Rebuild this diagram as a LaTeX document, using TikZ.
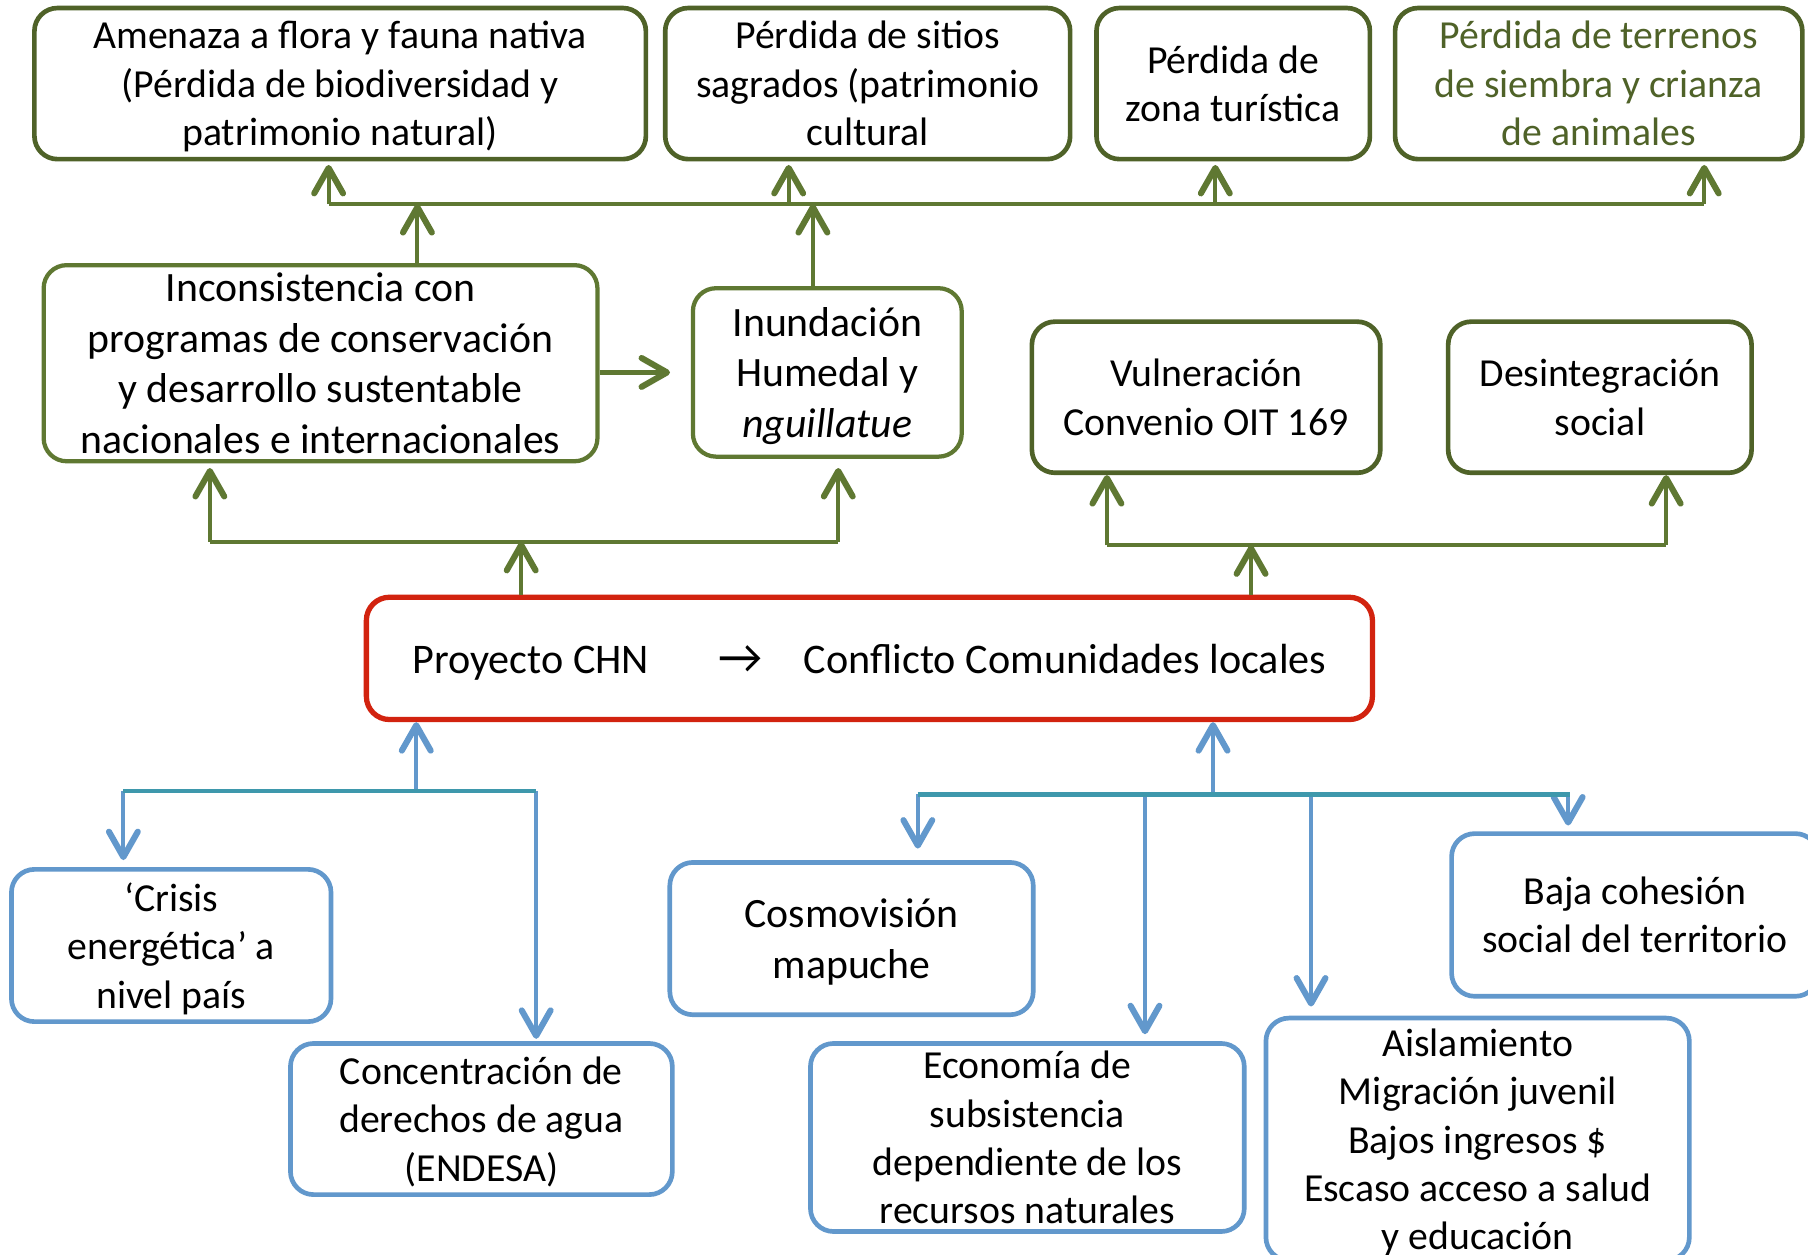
\documentclass[tikz,border=0pt]{standalone}
\usepackage{fontspec}
\setmainfont{Carlito}
\usetikzlibrary{arrows.meta}
\definecolor{dkgreen}{RGB}{79,98,40}
\definecolor{mdgreen}{RGB}{95,120,50}
\definecolor{cblue}{RGB}{98,152,204}
\definecolor{cteal}{RGB}{62,152,172}
\definecolor{cred}{RGB}{210,35,15}
\begin{document}
\begin{tikzpicture}[x=0.01cm,y=-0.01cm,
  box/.style={draw, rounded corners=0.2cm, align=center, inner sep=0pt, line width=1.15pt, fill=white,
    font=\fontsize{9.8}{11.95}\selectfont, text depth=0pt},
  bigtext/.style={font=\fontsize{10.3}{12.5}\selectfont},
  topbox/.style={box, draw=dkgreen},
  midbox/.style={box, draw=mdgreen},
  bluebox/.style={box, draw=cblue},
  tip/.style={-{Straight Barb[length=0.22cm,width=0.25cm,line width=1.5pt,round]}},
  garr/.style={tip, draw=mdgreen, line width=1pt},
  gline/.style={draw=mdgreen, line width=1pt},
  barr/.style={tip, draw=cblue, line width=0.95pt},
  tline/.style={draw=cteal, line width=1.1pt},
]
\useasboundingbox (0,0) rectangle (1568,1088);
\clip (0,0) rectangle (1568,1088);
\fill[white] (0,0) rectangle (1568,1088);

% top row
\node[topbox, minimum width=5.30cm, minimum height=1.31cm] (t1) at (295,72.5)
  {Amenaza a flora y fauna nativa\\(Pérdida de biodiversidad y\\patrimonio natural)};
\node[topbox, minimum width=3.51cm, minimum height=1.31cm] (t2) at (752.5,72.5)
  {Pérdida de sitios\\sagrados (patrimonio\\cultural};
\node[topbox, minimum width=2.37cm, minimum height=1.31cm] (t3) at (1069.5,72.5)
  {Pérdida de\\zona turística};
\node[topbox, minimum width=3.53cm, minimum height=1.31cm, text=dkgreen] (t4) at (1386.5,72.5)
  {Pérdida de terrenos\\de siembra y crianza\\de animales};

% middle row
\node[midbox, bigtext, line width=1.05pt, minimum width=4.80cm, minimum height=1.70cm] (inc) at (278,315)
  {Inconsistencia con\\programas de conservación\\y desarrollo sustentable\\nacionales e internacionales};
\node[midbox, bigtext, line width=1.05pt, minimum width=2.33cm, minimum height=1.46cm] (inu) at (717.5,323)
  {Inundación\\Humedal y\\\textit{nguillatue}};
\node[topbox, minimum width=3.02cm, minimum height=1.31cm] (vul) at (1046,344.5)
  {Vulneración\\Convenio OIT 169};
\node[topbox, minimum width=2.63cm, minimum height=1.31cm] (des) at (1387.5,344.5)
  {Desintegración\\social};

% central box
\node[box, draw=cred, line width=1.3pt, font=\fontsize{10.4}{12.6}\selectfont,
  minimum width=8.72cm, minimum height=1.06cm] (red) at (754,571)
  {Proyecto CHN\hspace*{0.6cm}{\fontsize{12}{12}\selectfont →}\hspace*{0.36cm}Conflicto Comunidades locales};

% bottom boxes
\node[bluebox, minimum width=2.77cm, minimum height=1.32cm] (cri) at (148.5,820)
  {‘Crisis\\energética’ a\\nivel país};
\node[bluebox, minimum width=3.31cm, minimum height=1.31cm] (con) at (417.5,970.5)
  {Concentración de\\derechos de agua\\(ENDESA)};
\node[bluebox, bigtext, minimum width=3.15cm, minimum height=1.32cm] (cos) at (738.5,814)
  {Cosmovisión\\mapuche};
\node[bluebox, minimum width=3.18cm, minimum height=1.41cm] (baj) at (1418,793.5)
  {Baja cohesión\\social del territorio};
\node[bluebox, minimum width=3.76cm, minimum height=1.63cm] (eco) at (891,986.5)
  {Economía de\\subsistencia\\dependiente de los\\recursos naturales};
\node[bluebox, minimum width=3.67cm, minimum height=2.10cm] (ais) at (1281.5,988)
  {Aislamiento\\Migración juvenil\\Bajos ingresos \$\\Escaso acceso a salud\\y educación};

% top bus
\coordinate (tb1) at (285,177);
\coordinate (tb2) at (684,177);
\coordinate (tb3) at (1054,177);
\coordinate (tb4) at (1478,177);
\coordinate (tb5) at (362,177);
\coordinate (tb6) at (705,177);
\draw[gline] (tb1) -- (tb4);
\draw[garr, shorten >=0.03cm] (tb1) -- (tb1 |- t1.south);
\draw[garr, shorten >=0.03cm] (tb2) -- (tb2 |- t2.south);
\draw[garr, shorten >=0.03cm] (tb3) -- (tb3 |- t3.south);
\draw[garr, shorten >=0.03cm] (tb4) -- (tb4 |- t4.south);
\draw[garr] (tb5 |- inc.north) -- (tb5);
\draw[garr] (tb6 |- inu.north) -- (tb6);

% Inconsistencia -> Inundacion
\draw[garr, line width=1.2pt, shorten >=0.18cm] (inc.east |- inu.west) -- (inu.west);

% middle left bus
\coordinate (mb0) at (452,470);
\coordinate (mb1) at (182,470);
\coordinate (mb2) at (727,470);
\draw[gline] (mb1) -- (mb2);
\draw[garr] (mb0 |- red.north) -- (mb0);
\draw[garr, shorten >=0.04cm] (mb1) -- (mb1 |- inc.south);
\draw[garr, shorten >=0.08cm] (mb2) -- (mb2 |- inu.south);

% middle right bus
\coordinate (rb0) at (1085,473);
\coordinate (rb1) at (960,473);
\coordinate (rb2) at (1445,473);
\draw[gline] (rb1) -- (rb2);
\draw[garr] (rb0 |- red.north) -- (rb0);
\draw[garr] (rb1) -- (rb1 |- vul.south);
\draw[garr] (rb2) -- (rb2 |- des.south);

% bottom left bus
\coordinate (bl0) at (361,686);
\coordinate (bl1) at (107,686);
\coordinate (bl2) at (465,686);
\draw[barr] (bl0) -- (bl0 |- red.south);
\draw[barr, shorten >=0.06cm] (bl1) -- (bl1 |- cri.north);
\draw[barr, shorten >=0.02cm] (bl2) -- (bl2 |- con.north);
\draw[tline] (bl1) -- (bl2);

% bottom right bus
\coordinate (br0) at (1052,689);
\coordinate (br1) at (796,689);
\coordinate (br2) at (993,689);
\coordinate (br3) at (1137,689);
\coordinate (br4) at (1360,689);
\coordinate (br5) at (1362,689);
\draw[barr] (br0) -- (br0 |- red.south);
\draw[barr, shorten >=0.10cm] (br1) -- (br1 |- cos.north);
\draw[barr, shorten >=0.06cm] (br2) -- (br2 |- eco.north);
\draw[barr, shorten >=0.08cm] (br3) -- (br3 |- ais.north);
\draw[barr, shorten >=0.05cm] (br4) -- (br4 |- baj.north);
\draw[tline] (br1) -- (br5);
\end{tikzpicture}
\end{document}
